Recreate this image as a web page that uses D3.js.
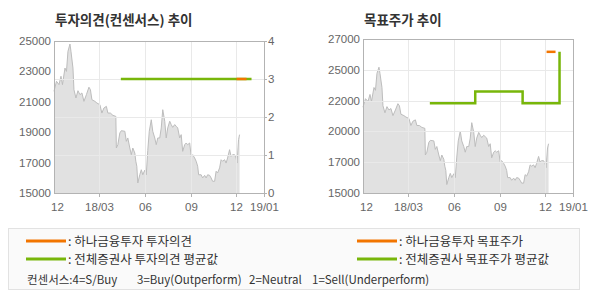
<!DOCTYPE html>
<html>
<head>
<meta charset="utf-8">
<script src="https://cdn.jsdelivr.net/npm/d3@7"></script>
<style>
  body { margin: 0; background: #fff; }
  svg text { font-family: "Liberation Sans", Arial, sans-serif; }
  .kr { font-family: "Noto Sans CJK KR", sans-serif; }
</style>
</head>
<body>
<div id="chart"></div>
<script>
// daily close
const priceDates = ["2017-12-01","2017-12-06","2017-12-11","2017-12-15","2017-12-18","2017-12-23","2017-12-26","2017-12-29","2018-01-02","2018-01-04","2018-01-08","2018-01-10","2018-01-14","2018-01-18","2018-01-22","2018-01-26","2018-01-30","2018-02-04","2018-02-09","2018-02-12","2018-02-15","2018-02-21","2018-02-25","2018-03-03","2018-03-07","2018-03-11","2018-03-16","2018-03-19","2018-03-24","2018-03-29","2018-04-04","2018-04-05","2018-04-08","2018-04-12","2018-04-15","2018-04-22","2018-04-25","2018-04-28","2018-05-02","2018-05-05","2018-05-08","2018-05-12","2018-05-14","2018-05-16","2018-05-18","2018-05-22","2018-05-25","2018-05-28","2018-06-01","2018-06-04","2018-06-07","2018-06-10","2018-06-14","2018-06-17","2018-06-21","2018-06-24","2018-06-27","2018-07-01","2018-07-04","2018-07-07","2018-07-11","2018-07-14","2018-07-17","2018-07-21","2018-07-24","2018-07-27","2018-07-31","2018-08-03","2018-08-06","2018-08-10","2018-08-13","2018-08-16","2018-08-20","2018-08-23","2018-08-26","2018-08-30","2018-09-02","2018-09-05","2018-09-09","2018-09-12","2018-09-15","2018-09-17","2018-09-22","2018-09-25","2018-09-29","2018-10-02","2018-10-05","2018-10-09","2018-10-12","2018-10-15","2018-10-19","2018-10-22","2018-10-25","2018-10-29","2018-11-01","2018-11-04","2018-11-08","2018-11-11","2018-11-14","2018-11-18","2018-11-21","2018-11-24","2018-11-28","2018-12-01","2018-12-03","2018-12-06","2018-12-08"];
const priceValues = [21690,22350,22130,22680,22130,23220,23000,24320,24800,24320,23220,21800,21250,21730,21470,21580,21030,21470,21960,21800,21140,21030,20920,20810,20260,20590,20700,20260,20260,20110,20040,17960,18180,18950,19100,19060,18400,18620,17960,17520,17960,17630,17090,16760,15660,16200,16530,16200,16500,16200,17800,19060,19820,19060,18620,18180,18620,18620,19280,20480,19720,18620,19280,19720,19500,19320,19500,19390,19280,18620,18840,17740,18180,18290,18180,18290,17410,17520,17300,17090,16760,16200,16200,15990,16160,15990,16200,16160,15990,15770,15770,16430,16320,16650,17190,17090,17190,16970,17300,17850,17410,17520,17520,17300,16970,18510,18840];

// investment opinion (consensus)
const hanaOpinionDates = ["2018-12-02","2018-12-22"];
const hanaOpinionValues = [3, 3];
const avgOpinionDates = ["2018-04-14","2019-01-01"];
const avgOpinionValues = [3, 3];

// target price
const hanaTargetDates = ["2018-12-04","2018-12-22"];
const hanaTargetValues = [26000, 26000];
const avgTargetDates = ["2018-04-14","2018-07-14","2018-10-17","2018-12-30"];
const avgTargetValues = [22000, 22900, 22000, 26000];

const xTickDates = ["2017-12-01","2018-03-01","2018-06-01","2018-09-01","2018-12-01","2019-01-26"];
const xTickLabels = ["12","18/03","06","09","12","19/01"];
const leftPriceTicks = [15000,17000,19000,21000,23000,25000];
const opinionTicks = [0,1,2,3,4];
const rightPriceTicks = [15000,17400,19800,22200,24600,27000];

const parse = d3.timeParse("%Y-%m-%d");
const zip = (ds, vs) => ds.map((d, i) => ({ date: parse(d), value: vs[i] }));
const price = zip(priceDates, priceValues);

const ORANGE = "#f27500";
const GREEN = "#78b60a";
const BORDER = "#b3b3b3";
const GRID = "#e9e9e9";

const svg = d3.select("#chart").append("svg")
  .attr("width", 590)
  .attr("height", 300);

function drawPanel(opt) {
  const x = d3.scaleTime()
    .domain([parse(xTickDates[0]), parse(xTickDates[xTickDates.length - 1])])
    .range([opt.left, opt.right]);
  const y = d3.scaleLinear()
    .domain(opt.priceDomain)
    .range([opt.bottom, opt.top]);

  const g = svg.append("g");

  // title
  g.append("text")
    .attr("class", "kr")
    .attr("x", opt.left + 1)
    .attr("y", 25)
    .style("font-size", "13.5px")
    .style("font-weight", "bold")
    .attr("fill", "#333")
    .text(opt.title);

  // price area
  g.append("path")
    .datum(price)
    .attr("fill", "#e1e1e1")
    .attr("d", d3.area().x(d => x(d.date)).y0(opt.bottom).y1(d => y(d.value)));
  g.append("path")
    .datum(price)
    .attr("fill", "none")
    .attr("stroke", "#bdbdbd")
    .attr("stroke-width", 1)
    .attr("d", d3.line().x(d => x(d.date)).y(d => y(d.value)));

  // grid
  xTickDates.slice(1, -1).forEach(d => {
    const xx = Math.round(x(parse(d))) + 0.5;
    g.append("line")
      .attr("x1", xx).attr("x2", xx)
      .attr("y1", opt.top).attr("y2", opt.bottom)
      .attr("stroke", GRID);
  });
  opt.gridValues.forEach(v => {
    const yy = Math.round(opt.gridScale(v)) + 0.5;
    g.append("line")
      .attr("x1", opt.left).attr("x2", opt.right)
      .attr("y1", yy).attr("y2", yy)
      .attr("stroke", GRID);
  });

  // frame
  g.append("rect")
    .attr("x", opt.left + 0.5)
    .attr("y", opt.top + 0.5)
    .attr("width", opt.right - opt.left)
    .attr("height", opt.bottom - opt.top)
    .attr("fill", "none")
    .attr("stroke", BORDER);

  // bottom ticks + labels
  xTickDates.forEach((d, i) => {
    const xx = Math.round(x(parse(d))) + 0.5;
    if (i > 0) {
      g.append("line")
        .attr("x1", xx).attr("x2", xx)
        .attr("y1", opt.bottom).attr("y2", opt.bottom + 4)
        .attr("stroke", BORDER);
    }
    g.append("text")
      .attr("x", xx + (i === 0 ? 3 : 0))
      .attr("y", opt.bottom + 18)
      .attr("text-anchor", "middle")
      .style("font-size", "11.5px")
      .attr("fill", "#666")
      .text(xTickLabels[i]);
  });

  // left labels
  opt.priceTicks.forEach(v => {
    g.append("text")
      .attr("x", opt.left - 3)
      .attr("y", y(v) + 4)
      .attr("text-anchor", "end")
      .style("font-size", "11.5px")
      .attr("fill", "#666")
      .text(opt.priceFormat(v));
  });

  return { g, x, y };
}

// ---- left panel: opinion
const yOp = d3.scaleLinear().domain([0, 4]).range([193, 41]);
const p1 = drawPanel({
  title: "투자의견(컨센서스) 추이",
  left: 54, right: 264, top: 41, bottom: 193,
  priceDomain: [15000, 25000],
  priceTicks: leftPriceTicks,
  priceFormat: d => d,
  gridScale: yOp,
  gridValues: [1, 2, 3]
});
opinionTicks.forEach(v => {
  const yy = Math.round(yOp(v)) + 0.5;
  p1.g.append("line")
    .attr("x1", 264).attr("x2", 267)
    .attr("y1", yy).attr("y2", yy)
    .attr("stroke", BORDER);
  p1.g.append("text")
    .attr("x", 268)
    .attr("y", yOp(v) + 4)
    .style("font-size", "11.5px")
    .attr("fill", "#666")
    .text(v);
});
const opLine = d3.line().x(d => p1.x(d.date)).y(d => yOp(d.value));
p1.g.append("path")
  .datum(zip(avgOpinionDates, avgOpinionValues))
  .attr("fill", "none").attr("stroke", GREEN).attr("stroke-width", 2.5)
  .attr("d", opLine);
p1.g.append("path")
  .datum(zip(hanaOpinionDates, hanaOpinionValues))
  .attr("fill", "none").attr("stroke", ORANGE).attr("stroke-width", 2.5)
  .attr("d", opLine);

// ---- right panel: target price
const p2 = drawPanel({
  title: "목표주가 추이",
  left: 363, right: 573, top: 39, bottom: 193,
  priceDomain: [15000, 27000],
  priceTicks: rightPriceTicks,
  priceFormat: d => Math.round(d / 1000) * 1000,
  gridScale: d3.scaleLinear().domain([15000, 27000]).range([193, 39]),
  gridValues: rightPriceTicks.slice(1, -1)
});
p2.g.append("path")
  .datum(zip(avgTargetDates, avgTargetValues))
  .attr("fill", "none").attr("stroke", GREEN).attr("stroke-width", 2.5)
  .attr("d", d3.line().curve(d3.curveStepAfter).x(d => p2.x(d.date)).y(d => p2.y(d.value)));
p2.g.append("path")
  .datum(zip(hanaTargetDates, hanaTargetValues))
  .attr("fill", "none").attr("stroke", ORANGE).attr("stroke-width", 2.5)
  .attr("d", d3.line().x(d => p2.x(d.date)).y(d => p2.y(d.value)));

// ---- legend
const lg = svg.append("g");
lg.append("rect")
  .attr("x", 8.5).attr("y", 228.5)
  .attr("width", 571).attr("height", 61)
  .attr("fill", "#fafafa")
  .attr("stroke", "#e2e2e2");

const legendItems = [
  { x: 26, y: 241, color: ORANGE, label: ": 하나금융투자 투자의견" },
  { x: 26, y: 259, color: GREEN, label: ": 전체증권사 투자의견 평균값" },
  { x: 357, y: 241, color: ORANGE, label: ": 하나금융투자 목표주가" },
  { x: 357, y: 259, color: GREEN, label: ": 전체증권사 목표주가 평균값" }
];
legendItems.forEach(d => {
  lg.append("line")
    .attr("x1", d.x).attr("x2", d.x + 40)
    .attr("y1", d.y).attr("y2", d.y)
    .attr("stroke", d.color).attr("stroke-width", 3);
  lg.append("text")
    .attr("class", "kr")
    .attr("x", d.x + 42)
    .attr("y", d.y + 4.5)
    .style("font-size", "12.5px")
    .attr("fill", "#333")
    .text(d.label);
});

const consensusX = [27, 137, 249, 312];
const consensusText = ["컨센서스:4=S/Buy", "3=Buy(Outperform)", "2=Neutral", "1=Sell(Underperform)"];
consensusText.forEach((t, i) => {
  lg.append("text")
    .attr("class", "kr")
    .attr("x", consensusX[i])
    .attr("y", 284)
    .style("font-size", "11.5px")
    .attr("fill", "#333")
    .text(t);
});
</script>
</body>
</html>
